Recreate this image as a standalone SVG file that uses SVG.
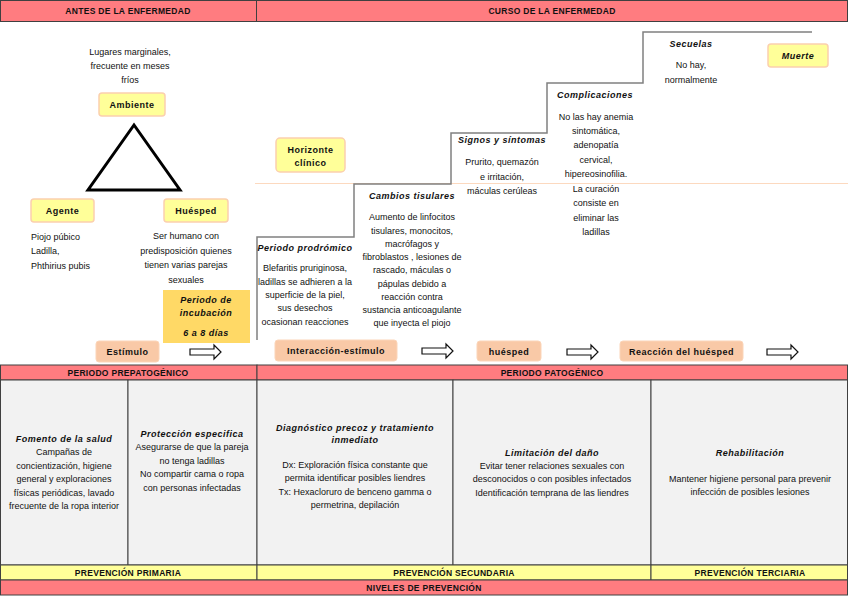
<svg xmlns="http://www.w3.org/2000/svg" width="848" height="599" viewBox="0 0 848 599">
<defs>
<style>
text{font-family:"Liberation Sans",Arial,sans-serif;fill:#111;}
.t{font-size:9px;text-anchor:middle;}
.tl{font-size:9px;text-anchor:start;}
.h{font-size:8.5px;font-weight:bold;text-anchor:middle;letter-spacing:0.3px;}
.it{font-size:9px;font-weight:bold;font-style:italic;text-anchor:middle;letter-spacing:0.5px;}
.lb{font-size:9px;font-weight:bold;text-anchor:middle;letter-spacing:0.5px;}
.pink{fill:#FF7C80;stroke:#404040;stroke-width:1;}
.yel{fill:#FFFF99;stroke:#404040;stroke-width:1;}
.cell{fill:#F2F2F2;stroke:#404040;stroke-width:1;}
.ynode{fill:#FFFF99;stroke:#FBD0AE;stroke-width:1.5;}
.pnode{fill:#F9C9A7;stroke:#FBD5B9;stroke-width:1;}
.gold{fill:#FFD966;stroke:none;}
.stair{fill:none;stroke:#808080;stroke-width:1.5;}
.arr{fill:#fff;stroke:#111;stroke-width:1.2;}
</style>
</defs>
<rect width="848" height="599" fill="#fff"/>

<g id="header">
<rect class="pink" x="0.5" y="0.5" width="256" height="21"/>
<rect class="pink" x="256.5" y="0.5" width="591" height="21"/>
<text class="h" x="128" y="14">ANTES DE LA ENFERMEDAD</text>
<text class="h" x="552" y="14">CURSO DE LA ENFERMEDAD</text>
</g>

<g id="connectors">
<line x1="255" y1="183.5" x2="848" y2="183.5" stroke="#FCD9BF" stroke-width="1.2"/>
<polyline class="stair" points="257,340 257,237 354,237 354,184 451,184 451,133 547,133 547,83 643,83 643,32 812,32"/>
<polygon class="arr" points="190,349 214,349 214,345 221,352 214,359 214,355 190,355"/>
<polygon class="arr" points="422,348 446,348 446,344 453,351 446,358 446,354 422,354"/>
<polygon class="arr" points="567,349 591,349 591,345 598,352 591,359 591,355 567,355"/>
<polygon class="arr" points="767,349 791,349 791,345 798,352 791,359 791,355 767,355"/>
</g>

<g id="triangle">
<polygon points="134,125 88,190 180,190" fill="none" stroke="#000" stroke-width="3"/>
</g>

<g id="ambiente">
<text class="t" x="130" y="55">Lugares marginales,</text>
<text class="t" x="130" y="69">frecuente en meses</text>
<text class="t" x="130" y="83">fríos</text>
<rect class="ynode" x="99" y="93" width="66" height="23" rx="3"/>
<text class="lb" x="132" y="108">Ambiente</text>
</g>

<g id="agente">
<rect class="ynode" x="31" y="199" width="63" height="23" rx="3"/>
<text class="lb" x="62.5" y="214">Agente</text>
<text class="tl" x="31" y="240">Piojo púbico</text>
<text class="tl" x="31" y="254">Ladilla,</text>
<text class="tl" x="31" y="269">Phthirius pubis</text>
</g>

<g id="huesped">
<rect class="ynode" x="164" y="199" width="64" height="23" rx="3"/>
<text class="lb" x="196" y="214">Huésped</text>
<text class="t" x="186" y="239">Ser humano con</text>
<text class="t" x="186" y="254">predisposición quienes</text>
<text class="t" x="186" y="268">tienen varias parejas</text>
<text class="t" x="186" y="283">sexuales</text>
</g>

<g id="incubacion">
<rect class="gold" x="163" y="290" width="87" height="53"/>
<text class="it" x="206" y="303">Periodo de</text>
<text class="it" x="206" y="316">incubación</text>
<text class="it" x="206" y="336">6 a 8 días</text>
</g>

<g id="estimulo">
<rect class="pnode" x="96" y="341" width="63" height="21" rx="3"/>
<text class="lb" x="127.5" y="355">Estímulo</text>
</g>

<g id="horizonte">
<rect class="ynode" x="276" y="138" width="69" height="34" rx="4"/>
<text class="lb" x="310.5" y="153">Horizonte</text>
<text class="lb" x="310.5" y="166">clínico</text>
</g>

<g id="prodromico">
<text class="it" x="305" y="251">Periodo prodrómico</text>
<text class="t" x="305" y="271">Blefaritis pruriginosa,</text>
<text class="t" x="305" y="285">ladillas se adhieren a la</text>
<text class="t" x="305" y="298">superficie de la piel,</text>
<text class="t" x="305" y="311">sus desechos</text>
<text class="t" x="305" y="325">ocasionan reacciones</text>
</g>

<g id="cambios">
<text class="it" x="412" y="199">Cambios tisulares</text>
<text class="t" x="412" y="220">Aumento de linfocitos</text>
<text class="t" x="412" y="234">tisulares, monocitos,</text>
<text class="t" x="412" y="247">macrófagos y</text>
<text class="t" x="412" y="260">fibroblastos , lesiones de</text>
<text class="t" x="412" y="273">rascado, máculas o</text>
<text class="t" x="412" y="287">pápulas debido a</text>
<text class="t" x="412" y="300">reacción contra</text>
<text class="t" x="412" y="313">sustancia anticoagulante</text>
<text class="t" x="412" y="326">que inyecta el piojo</text>
</g>

<g id="signos">
<text class="it" x="502" y="143">Signos y síntomas</text>
<text class="t" x="502" y="165">Prurito, quemazón</text>
<text class="t" x="502" y="180">e irritación,</text>
<text class="t" x="502" y="194">máculas cerúleas</text>
</g>

<g id="complicaciones">
<text class="it" x="595" y="98">Complicaciones</text>
<text class="t" x="596" y="120">No las hay anemia</text>
<text class="t" x="596" y="134">sintomática,</text>
<text class="t" x="596" y="148">adenopatía</text>
<text class="t" x="596" y="163">cervical,</text>
<text class="t" x="596" y="177">hipereosinofilia.</text>
<text class="t" x="596" y="192">La curación</text>
<text class="t" x="596" y="206">consiste en</text>
<text class="t" x="596" y="221">eliminar las</text>
<text class="t" x="596" y="235">ladillas</text>
</g>

<g id="secuelas">
<text class="it" x="691" y="47">Secuelas</text>
<text class="t" x="691" y="68">No hay,</text>
<text class="t" x="691" y="83">normalmente</text>
</g>

<g id="muerte">
<rect class="ynode" x="768" y="44" width="60" height="23" rx="3"/>
<text class="it" x="798" y="59">Muerte</text>
</g>

<g id="interaccion">
<rect class="pnode" x="275" y="340" width="122" height="21" rx="3"/>
<text class="lb" x="336" y="354">Interacción-estímulo</text>
</g>

<g id="huesped2">
<rect class="pnode" x="477" y="341" width="64" height="20" rx="3"/>
<text class="lb" x="509" y="355">huésped</text>
</g>

<g id="reaccion">
<rect class="pnode" x="620" y="341" width="123" height="20" rx="3"/>
<text class="lb" x="681.5" y="355">Reacción del huésped</text>
</g>

<g id="periodos">
<rect class="pink" x="0.5" y="365" width="256.5" height="15"/>
<rect class="pink" x="257" y="365" width="590.5" height="15"/>
<text class="h" x="128" y="376">PERIODO PREPATOGÉNICO</text>
<text class="h" x="552" y="376">PERIODO PATOGÉNICO</text>
</g>

<g id="fomento">
<rect class="cell" x="0.5" y="380" width="127.5" height="185"/>
<text class="it" x="64" y="442">Fomento de la salud</text>
<text class="t" x="64" y="455">Campañas de</text>
<text class="t" x="64" y="469">concientización, higiene</text>
<text class="t" x="64" y="482">general y exploraciones</text>
<text class="t" x="64" y="496">físicas periódicas, lavado</text>
<text class="t" x="64" y="509">frecuente de la ropa interior</text>
</g>

<g id="proteccion">
<rect class="cell" x="128" y="380" width="129" height="185"/>
<text class="it" x="192" y="437">Protección especifica</text>
<text class="t" x="192" y="450">Asegurarse de que la pareja</text>
<text class="t" x="192" y="464">no tenga ladillas</text>
<text class="t" x="192" y="477">No compartir cama o ropa</text>
<text class="t" x="192" y="491">con personas infectadas</text>
</g>

<g id="diagnostico">
<rect class="cell" x="257" y="380" width="196" height="185"/>
<text class="it" x="355" y="431">Diagnóstico precoz y tratamiento</text>
<text class="it" x="355" y="443">inmediato</text>
<text class="t" x="355" y="468">Dx: Exploración física constante que</text>
<text class="t" x="355" y="481">permita identificar posibles liendres</text>
<text class="t" x="355" y="495">Tx: Hexacloruro de benceno gamma o</text>
<text class="t" x="355" y="508">permetrina, depilación</text>
</g>

<g id="limitacion">
<rect class="cell" x="453" y="380" width="198" height="185"/>
<text class="it" x="552" y="456">Limitación del daño</text>
<text class="t" x="552" y="469">Evitar tener relaciones sexuales con</text>
<text class="t" x="552" y="482">desconocidos o con posibles infectados</text>
<text class="t" x="552" y="496">Identificación temprana de las liendres</text>
</g>

<g id="rehabilitacion">
<rect class="cell" x="651" y="380" width="196.5" height="185"/>
<text class="it" x="750" y="456">Rehabilitación</text>
<text class="t" x="750" y="482">Mantener higiene personal para prevenir</text>
<text class="t" x="750" y="495">infección de posibles lesiones</text>
</g>

<g id="prevencion">
<rect class="yel" x="0.5" y="565" width="256.5" height="15"/>
<rect class="yel" x="257" y="565" width="394" height="15"/>
<rect class="yel" x="651" y="565" width="196.5" height="15"/>
<text class="h" x="128" y="576">PREVENCIÓN PRIMARIA</text>
<text class="h" x="454" y="576">PREVENCIÓN SECUNDARIA</text>
<text class="h" x="750" y="576">PREVENCIÓN TERCIARIA</text>
<rect class="pink" x="0.5" y="580" width="847" height="15"/>
<text class="h" x="424" y="591">NIVELES DE PREVENCIÓN</text>
</g>
</svg>
